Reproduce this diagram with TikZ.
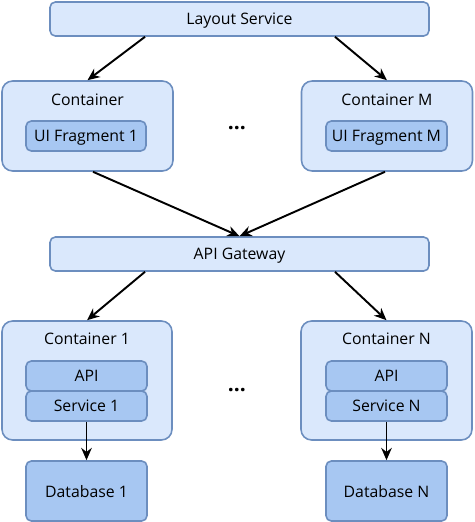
\documentclass[tikz,border=0pt]{standalone}
\usepackage{fontspec}
\setmainfont{Open Sans}
\usepackage{tikz}
\usetikzlibrary{arrows.meta,positioning,calc}
\definecolor{paleblue}{HTML}{DAE8FC}
\definecolor{midblue}{HTML}{A7C7F2}
\definecolor{edgeblue}{HTML}{6C8EBF}
\tikzset{
  outerbox/.style={draw=edgeblue, fill=paleblue, line width=0.9pt, rounded corners=6pt, inner sep=0pt, text depth=0pt},
  innerbox/.style={draw=edgeblue, fill=midblue, line width=0.9pt, rounded corners=3pt, inner sep=0pt, font=\small, text depth=0pt},
  wide/.style={outerbox, rounded corners=3pt, minimum width=7.58cm, minimum height=0.68cm, font=\small},
  lbl/.style={font=\small, text depth=0pt},
  arr/.style={-{Stealth[length=7pt,width=6pt]}, line width=1.1pt, black}
}
\begin{document}
\begin{tikzpicture}[x=0.02cm, y=-0.02cm]
\useasboundingbox (0,0) rectangle (475,522);
\node[wide] (layout) at (239.5,19) {Layout Service};
\node[outerbox, minimum width=3.42cm, minimum height=1.8cm] (cont) at (87.5,126) {};
\node[lbl] (contt) at (87.5,100) {Container};
\node[innerbox, minimum width=2.4cm, minimum height=0.6cm] (frag) at (86,136) {UI Fragment 1};
\node[outerbox, minimum width=3.42cm, minimum height=1.8cm] (contm) at (387,126) {};
\node[lbl] (contmt) at (387,100) {Container M};
\node[innerbox, minimum width=2.42cm, minimum height=0.6cm] (fragm) at (386.5,136) {UI Fragment M};
\node[font=\large\bfseries] (dotsa) at (237,128) {...};
\node[wide] (gate) at (239.5,254) {API Gateway};
\node[outerbox, minimum width=3.4cm, minimum height=2.38cm] (cone) at (87,380.5) {};
\node[lbl] (conet) at (87,339) {Container 1};
\node[innerbox, minimum width=2.42cm, minimum height=0.6cm] (apia) at (86.5,376) {API};
\node[innerbox, minimum width=2.42cm, minimum height=0.6cm] (svca) at (86.5,406) {Service 1};
\node[outerbox, minimum width=3.42cm, minimum height=2.38cm] (conn) at (386.5,380.5) {};
\node[lbl] (connt) at (386.5,339) {Container N};
\node[innerbox, minimum width=2.42cm, minimum height=0.6cm] (apib) at (386.5,376) {API};
\node[innerbox, minimum width=2.42cm, minimum height=0.6cm] (svcb) at (386.5,406) {Service N};
\node[font=\large\bfseries] (dotsb) at (237,390) {...};
\node[innerbox, minimum width=2.42cm, minimum height=1.2cm] (dba) at (86.5,491) {Database 1};
\node[innerbox, minimum width=2.42cm, minimum height=1.2cm] (dbb) at (386.5,491) {Database N};
\draw[arr] ([xshift=-1.89cm]layout.south) -- (cont.north);
\draw[arr] ([xshift=1.91cm]layout.south) -- (contm.north);
\draw[arr] ([xshift=0.11cm]cont.south) -- (gate.north);
\draw[arr] ([xshift=-0.04cm]contm.south) -- (gate.north);
\draw[arr] ([xshift=-1.89cm]gate.south) -- (cone.north);
\draw[arr] ([xshift=1.91cm]gate.south) -- (conn.north);
\draw[arr] (svca.south) -- (dba.north);
\draw[arr] (svcb.south) -- (dbb.north);
\end{tikzpicture}
\end{document}
